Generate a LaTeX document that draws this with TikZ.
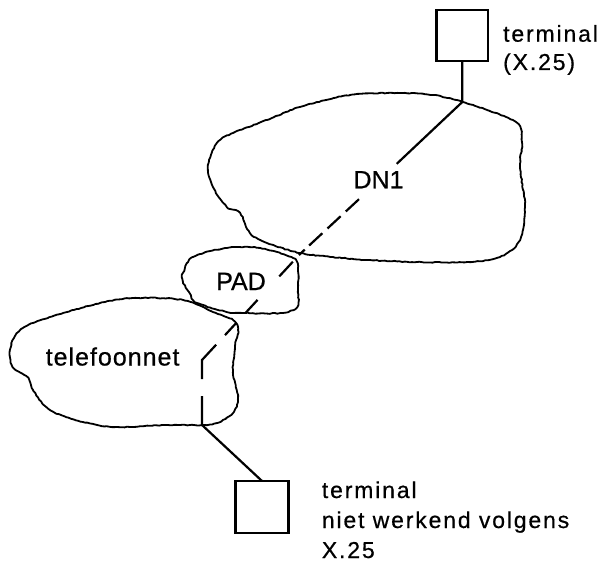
\documentclass[tikz,border=0pt]{standalone}
\usepackage{fontspec}
\setmainfont[FakeBold=0.6]{Liberation Sans}
\newfontfamily\termfont[LetterSpace=8,FakeBold=0.6]{Liberation Sans}
\newfontfamily\telfont[LetterSpace=4,FakeBold=0.6]{Liberation Sans}
\usetikzlibrary{decorations.pathmorphing}
\begin{document}
\begin{tikzpicture}[x=1pt,y=-1pt,
  termbox/.style={draw, line width=2.4pt, inner sep=0pt, outer sep=0pt},
  cloudline/.style={draw, line width=1.8pt, line join=round,
    decoration={random steps, segment length=2.5pt, amplitude=0.45pt}, decorate},
  conn/.style={line width=2.2pt},
  termtext/.style={anchor=base west, inner sep=0pt, font=\termfont\fontsize{23}{27}\selectfont},
  netlabel/.style={inner sep=0pt, font=\fontsize{25}{30}\selectfont}]
\pgfmathsetseed{7}
\useasboundingbox (0,0) rectangle (604,564);

% clouds
\path[cloudline] plot[smooth cycle, tension=0.55] coordinates {
 (463,102) (487,110) (517,123) (522,142) (520,167) (525,207) (520,240)
 (500,257) (467,262) (417,262) (367,260) (333,257) (300,253) (267,243)
 (250,233) (240,213) (227,207) (213,187) (208,167) (217,143) (233,133)
 (267,120) (300,107) (350,95) (400,93) (433,95)};
\path[cloudline] plot[smooth cycle, tension=0.55] coordinates {
 (183,273) (193,257) (227,248) (260,248) (293,258) (298,268) (298,290)
 (297,307) (280,313) (243,313) (227,312) (197,303) (190,294) (183,282)};
\path[cloudline] plot[smooth cycle, tension=0.55] coordinates {
 (10,350) (17,333) (33,323) (67,312) (100,303) (133,298) (183,300)
 (213,312) (233,320) (238,330) (235,347) (233,373) (238,397) (233,413)
 (217,423) (202,425) (167,425) (117,427) (83,422) (50,410) (33,390)
 (28,378) (13,367)};

% labels
\node[netlabel, anchor=base] (dn1) at (378.5,188.3) {DN1};
\node[netlabel, anchor=base] (pad) at (241,290) {PAD};
\node[netlabel, anchor=base west, font=\telfont\fontsize{25}{30}\selectfont] (tel) at (45.5,365.5) {telefoonnet};

% terminals
\node[termbox, minimum width=51.5pt, minimum height=51pt] (t1) at (462.3,35.5) {};
\node[termbox, minimum width=53pt, minimum height=52pt] (t2) at (262,507) {};

\node[termtext] (t1a) at (503,41.7) {terminal};
\node[termtext] (t1b) at (503,70) {(X.25)};
\node[termtext] (t2a) at (321.7,498) {terminal};
\node[termtext] (t2b) at (321.7,528) {niet werkend volgens};
\node[termtext] (t2c) at (321.7,558) {X.25};

% connector
\coordinate (j1) at (462.3,102);
\coordinate (k) at (300,254);
\coordinate (d) at (202,360);
\coordinate (e) at (202,425);
\node[inner sep=0pt, minimum width=54pt, minimum height=35pt] (dn1c) at (378,181.5) {};
\draw[conn] (t1.south) -- (j1) -- (dn1c);
\draw[conn, dash pattern=on 18pt off 7pt on 18pt off 7pt on 18pt off 6pt on 8pt off 9pt on 20pt off 32pt on 18pt off 13pt on 17pt off 13pt on 40pt off 17pt on 40pt off 20pt]
  (dn1c) -- (k) -- (d) -- (e);
\draw[conn] (e) -- (t2.north);
\end{tikzpicture}
\end{document}
